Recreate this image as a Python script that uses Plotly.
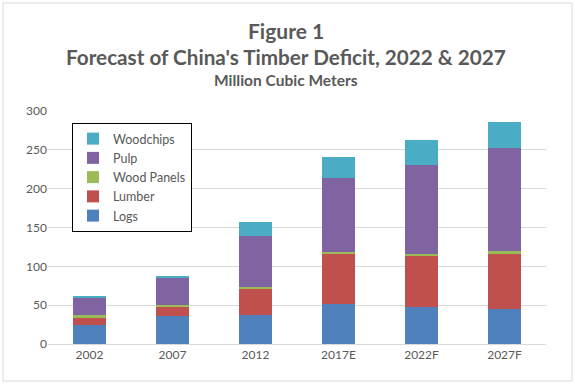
import plotly.graph_objects as go

categories = ["2002", "2007", "2012", "2017E", "2022F", "2027F"]
logs = [24, 36, 37, 52, 48, 45]
lumber = [9, 12, 35, 64, 65, 71]
wood_panels = [4.5, 2.5, 1.7, 2.6, 3, 3.9]
pulp = [22.5, 35.5, 65, 95, 114, 133]
woodchips = [1, 2, 18, 27, 32.5, 32.5]
y_ticks = [0, 50, 100, 150, 200, 250, 300]

series = [
    ("Logs", logs, "#4F81BD"),
    ("Lumber", lumber, "#C0504D"),
    ("Wood Panels", wood_panels, "#9BBB59"),
    ("Pulp", pulp, "#8064A2"),
    ("Woodchips", woodchips, "#4BACC6"),
]

fig = go.Figure()
for name, vals, color in series:
    fig.add_trace(go.Bar(x=categories, y=vals, name=name, marker=dict(color=color, line=dict(width=0))))

txt = "#595959"
plot_l, plot_r, plot_t, plot_b = 48, 29, 111, 41
pw = 575 - plot_l - plot_r
plot_bottom = 385 - plot_b
ph = plot_bottom - plot_t

def ypix(p):
    return (plot_bottom - p) / ph

def xpix(p):
    return (p - plot_l) / pw

fig.update_layout(
    barmode="stack",
    bargap=0.6,
    width=575, height=385,
    margin=dict(l=plot_l, r=plot_r, t=plot_t, b=plot_b),
    paper_bgcolor="white", plot_bgcolor="white",
    font=dict(family="Lato, Open Sans, sans-serif", color=txt, size=12),
    showlegend=True,
    legend=dict(
        x=xpix(72), y=ypix(123), xanchor="left", yanchor="top",
        bordercolor="black", borderwidth=1, bgcolor="white",
        traceorder="reversed", font=dict(size=12.5, color=txt), itemwidth=30,
    ),
    xaxis=dict(showline=True, linecolor="#D9D9D9", linewidth=1, ticks="", tickfont=dict(size=12, color=txt)),
    yaxis=dict(range=[0, 300], tickvals=y_ticks, showgrid=True, gridcolor="#D9D9D9", gridwidth=1,
               zeroline=False, ticks="", tickfont=dict(size=12, color=txt)),
)

titles = [
    ("<b>Figure 1</b>", 21, 31),
    ("<b>Forecast of China's Timber Deficit, 2022 & 2027</b>", 20.7, 57),
    ("<b>Million Cubic Meters</b>", 15.5, 80),
]
for text, size, yp in titles:
    fig.add_annotation(text=text, x=xpix(286), y=ypix(yp), xref="paper", yref="paper",
                       xanchor="center", yanchor="middle", showarrow=False,
                       font=dict(size=size, color=txt))

# outer light border
fig.add_shape(type="rect", xref="paper", yref="paper",
              x0=xpix(3), x1=xpix(572), y0=ypix(381), y1=ypix(3),
              line=dict(color="#D9D9D9", width=1), fillcolor="rgba(0,0,0,0)", layer="below")

fig.write_html("out.html", config={"displayModeBar": False},
               post_script="document.body.style.margin='0';document.body.style.overflow='hidden';")
